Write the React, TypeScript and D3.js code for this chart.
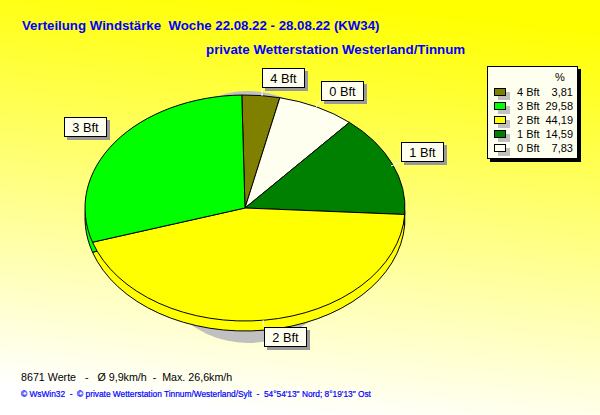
import React from "react";
import * as d3 from "d3";

const categories = ["4 Bft", "0 Bft", "1 Bft", "2 Bft", "3 Bft"];
const percentValues = [3.81, 7.83, 14.59, 44.19, 29.58];
const sliceColors = ["#808000", "#fffff0", "#008000", "#ffff00", "#00ff00"];
const legendOrder = ["4 Bft", "3 Bft", "2 Bft", "1 Bft", "0 Bft"];
const legendText = ["3,81", "29,58", "44,19", "14,59", "7,83"];
const legendColors = ["#808000", "#00ff00", "#ffff00", "#008000", "#fffff0"];
const labelBoxes = [
  { t: "4 Bft", x: 262, y: 68, lx1: 262, ly1: 88, lx2: 262, ly2: 96 },
  { t: "0 Bft", x: 321, y: 81, lx1: 321, ly1: 100, lx2: 316, ly2: 107 },
  { t: "1 Bft", x: 401, y: 142, lx1: 401, ly1: 162, lx2: 391, ly2: 166 },
  { t: "2 Bft", x: 264, y: 327, lx1: 264, ly1: 327, lx2: 263, ly2: 320 },
  { t: "3 Bft", x: 64, y: 117, lx1: 0, ly1: 0, lx2: 0, ly2: 0 },
];

const cx = 245, cy = 208, rx = 160, ry = 113, depth = 10;
const SANS = "'Liberation Sans', Arial, sans-serif";

export default function App() {
  const pie = d3.pie<number>().sort(null).startAngle(-0.02).endAngle(2 * Math.PI - 0.02);
  const arcs = pie(percentValues);
  const arc = d3.arc<any>().innerRadius(0).outerRadius(rx);
  const ell = `scale(1,${ry / rx})`;
  return (
    <svg width={600} height={415} style={{ position: "fixed", left: 0, top: 0 }} fontFamily={SANS}>
      <defs>
        <linearGradient id="bg" gradientUnits="userSpaceOnUse" x1={330} y1={0} x2={285} y2={415}>
          <stop offset="0" stopColor="#ffff00" />
          <stop offset="1" stopColor="#ffffff" />
        </linearGradient>
      </defs>
      <rect width={600} height={415} fill="url(#bg)" />
      <text x={22} y={30} fontSize={13.25} fontWeight="bold" fill="#0000ff" xmlSpace="preserve">Verteilung Windstärke  Woche 22.08.22 - 28.08.22 (KW34)</text>
      <text x={206} y={54} fontSize={13.33} fontWeight="bold" fill="#0000ff">private Wetterstation Westerland/Tinnum</text>

      <ellipse cx={248} cy={217} rx={110} ry={126} fill="#c0c0c0" />

      <g transform={`translate(${cx},${cy + depth})`}>
        <g transform={ell}>
          {arcs.map((a, i) => (
            <path key={i} d={arc(a) as string} fill={sliceColors[i]} stroke="#000" strokeWidth={1} vectorEffect="non-scaling-stroke" />
          ))}
        </g>
      </g>
      <g transform={`translate(${cx},${cy})`}>
        <g transform={ell}>
          {arcs.map((a, i) => (
            <path key={i} d={arc(a) as string} fill={sliceColors[i]} stroke="#000" strokeWidth={1} vectorEffect="non-scaling-stroke" />
          ))}
        </g>
      </g>

      {labelBoxes.map((b) => (
        <g key={b.t}>
          {b.lx1 > 0 && <line x1={b.lx1} y1={b.ly1} x2={b.lx2} y2={b.ly2} stroke="#fff" />}
          <rect x={b.x + 3} y={b.y + 3} width={43} height={20} fill="#999" />
          <rect x={b.x + 0.5} y={b.y + 0.5} width={42} height={19} fill="#fffff0" stroke="#000" />
          <text x={b.x + 21.5} y={b.y + 15} fontSize={12.8} textAnchor="middle" fill="#000">{b.t}</text>
        </g>
      ))}

      <rect x={490} y={69} width={91} height={93} fill="#000" />
      <rect x={487.5} y={66.5} width={90} height={92} fill="#fffff0" stroke="#000" />
      <text x={560} y={81} fontSize={11} textAnchor="middle">%</text>
      {legendOrder.map((t, i) => (
        <g key={t}>
          <rect x={498} y={92 + i * 14} width={12} height={8} fill="#c0c0c0" />
          <rect x={494.5} y={88.5 + i * 14} width={11} height={7} fill={legendColors[i]} stroke="#000" />
          <text x={517} y={96 + i * 14} fontSize={11}>{t}</text>
          <text x={573} y={96 + i * 14} fontSize={11} textAnchor="end">{legendText[i]}</text>
        </g>
      ))}

      <text x={21} y={381} fontSize={10.7} fill="#000" xmlSpace="preserve">8671 Werte   -   Ø 9,9km/h  -  Max. 26,6km/h</text>
      <text x={21} y={397} fontSize={8.34} fill="#0000ff" stroke="#0000ff" strokeWidth={0.2} xmlSpace="preserve">© WsWin32  -  © private Wetterstation Tinnum/Westerland/Sylt  -  54°54'13" Nord; 8°19'13" Ost</text>
    </svg>
  );
}
